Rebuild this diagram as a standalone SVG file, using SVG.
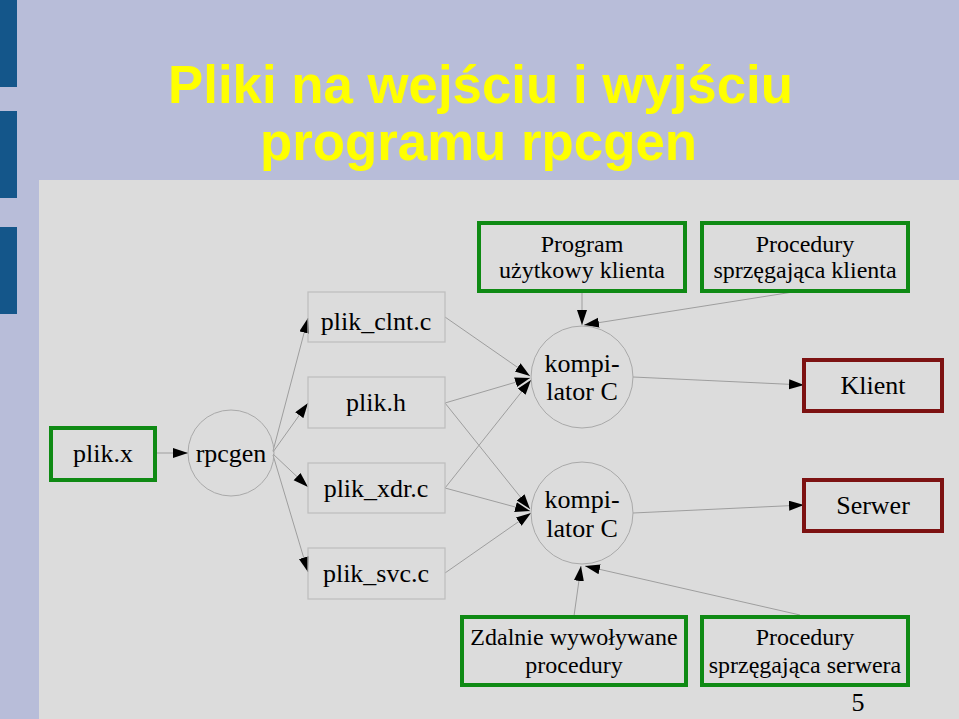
<svg xmlns="http://www.w3.org/2000/svg" width="959" height="719" viewBox="0 0 959 719">
<style>
.t{font-family:'Liberation Serif','Times New Roman',Times,'Nimbus Roman','Nimbus Roman No9 L',FreeSerif,'Noto Serif','DejaVu Serif',serif;fill:#000;text-anchor:middle}
.s26{font-size:26px}
.s24{font-size:24px}
.title{font-family:'Liberation Sans Narrow','Liberation Sans',Arial,sans-serif;font-weight:bold;font-size:54px;fill:#ffff00}
.gbox{fill:none;stroke:#0f8a14;stroke-width:4}
.rbox{fill:none;stroke:#7d1212;stroke-width:4}
.pbox{fill:none;stroke:#bdbdbd;stroke-width:1.2}
.circ{fill:none;stroke:#a9a9a9;stroke-width:1}
.e{stroke:#9e9e9e;stroke-width:1;fill:none;marker-end:url(#ah)}
</style>
<defs>
<marker id="ah" markerUnits="userSpaceOnUse" markerWidth="16" markerHeight="11" refX="15" refY="5" orient="auto">
<path d="M0,0 L15,5 L0,10 z" fill="#000"/>
</marker>
</defs>
<rect x="0" y="0" width="959" height="719" fill="#b8bdd9"/>
<rect x="0" y="0" width="17" height="87" fill="#14568a"/>
<rect x="0" y="111" width="17" height="87" fill="#14568a"/>
<rect x="0" y="227" width="17" height="87" fill="#14568a"/>
<rect x="39" y="180" width="920" height="539" fill="#dcdcdc"/>
<text class="title" x="168" y="103" textLength="625" lengthAdjust="spacingAndGlyphs">Pliki na wejściu i wyjściu</text>
<text class="title" x="260" y="160" textLength="437" lengthAdjust="spacingAndGlyphs">programu rpcgen</text>

<g id="connectors">
<line class="e" x1="155" y1="453" x2="188" y2="453"/>
<line class="e" x1="273" y1="451" x2="308" y2="318"/>
<line class="e" x1="273" y1="452" x2="308" y2="403"/>
<line class="e" x1="273" y1="454" x2="308" y2="487"/>
<line class="e" x1="273" y1="455" x2="308" y2="572"/>
<line class="e" x1="445" y1="317" x2="530" y2="376"/>
<line class="e" x1="445" y1="403" x2="530" y2="378"/>
<line class="e" x1="445" y1="488" x2="531" y2="380"/>
<line class="e" x1="445" y1="403" x2="530" y2="509"/>
<line class="e" x1="445" y1="488" x2="530" y2="511"/>
<line class="e" x1="445" y1="573" x2="531" y2="513"/>
<line class="e" x1="582" y1="291" x2="582" y2="325"/>
<line class="e" x1="793" y1="292" x2="584" y2="325"/>
<line class="e" x1="633" y1="377" x2="804" y2="385"/>
<line class="e" x1="633" y1="513" x2="804" y2="505"/>
<line class="e" x1="574" y1="616" x2="581" y2="566"/>
<line class="e" x1="800" y1="615" x2="585" y2="566"/>
</g>

<g id="plik_x"><rect class="gbox" x="51" y="428" width="104" height="52"/><text class="t s26" x="103" y="462">plik.x</text></g>
<g id="rpcgen"><circle class="circ" cx="231" cy="453" r="43"/><text class="t s26" x="231" y="462">rpcgen</text></g>
<g id="plik_clnt_c"><rect class="pbox" x="308" y="292" width="137" height="50"/><text class="t s26" x="376" y="330">plik_clnt.c</text></g>
<g id="plik_h"><rect class="pbox" x="308" y="377" width="137" height="51"/><text class="t s26" x="376" y="411">plik.h</text></g>
<g id="plik_xdr_c"><rect class="pbox" x="308" y="463" width="137" height="50"/><text class="t s26" x="376" y="497">plik_xdr.c</text></g>
<g id="plik_svc_c"><rect class="pbox" x="308" y="548" width="137" height="51"/><text class="t s26" x="376" y="582">plik_svc.c</text></g>
<g id="kompilator1"><circle class="circ" cx="582" cy="377" r="51"/><text class="t s26" x="582" y="372">kompi-</text><text class="t s26" x="582" y="400">lator C</text></g>
<g id="kompilator2"><circle class="circ" cx="582" cy="513" r="51"/><text class="t s26" x="582" y="508">kompi-</text><text class="t s26" x="582" y="537">lator C</text></g>
<g id="program_klienta"><rect class="gbox" x="479" y="223" width="206" height="68"/><text class="t s24" x="582" y="252">Program</text><text class="t s24" x="582" y="278">użytkowy klienta</text></g>
<g id="proc_klienta"><rect class="gbox" x="702" y="223" width="206" height="68"/><text class="t s24" x="805" y="252">Procedury</text><text class="t s24" x="805" y="278">sprzęgająca klienta</text></g>
<g id="klient"><rect class="rbox" x="804" y="360" width="138" height="51"/><text class="t s26" x="873" y="394">Klient</text></g>
<g id="serwer"><rect class="rbox" x="804" y="480" width="138" height="51"/><text class="t s26" x="873" y="514">Serwer</text></g>
<g id="zdalnie"><rect class="gbox" x="462" y="617" width="224" height="68"/><text class="t s24" x="574" y="645">Zdalnie wywoływane</text><text class="t s24" x="574" y="673">procedury</text></g>
<g id="proc_serwera"><rect class="gbox" x="702" y="617" width="206" height="68"/><text class="t s24" x="805" y="645">Procedury</text><text class="t s24" x="805" y="673">sprzęgająca serwera</text></g>
<text class="t s26" x="858" y="711">5</text>
</svg>
